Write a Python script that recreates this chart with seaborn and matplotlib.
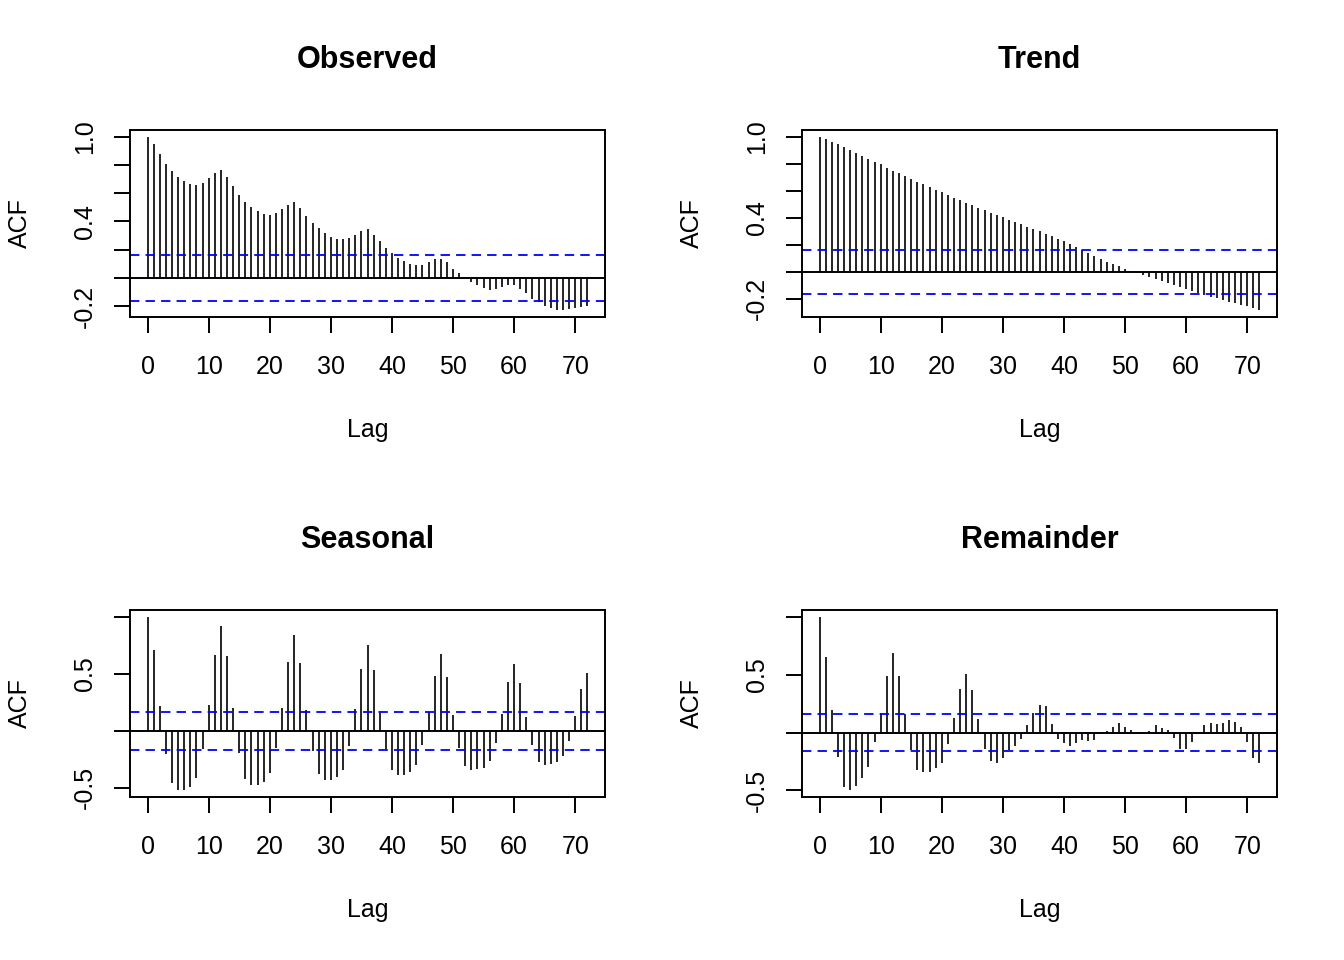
import numpy as np
import pandas as pd
import matplotlib
matplotlib.use("Agg")
import matplotlib.pyplot as plt
import seaborn as sns

# ACF values, lags 0..72 (monthly series, n = 144)
observed_acf = [1.0, 0.95, 0.88, 0.81, 0.757, 0.716, 0.686, 0.667, 0.657, 0.674,
                0.707, 0.747, 0.764, 0.716, 0.65, 0.589, 0.541, 0.504, 0.473, 0.454,
                0.447, 0.461, 0.487, 0.52, 0.537, 0.496, 0.442, 0.39, 0.352, 0.319,
                0.293, 0.279, 0.272, 0.281, 0.303, 0.331, 0.343, 0.307, 0.258, 0.215,
                0.177, 0.144, 0.116, 0.097, 0.09, 0.092, 0.109, 0.13, 0.137, 0.109,
                0.066, 0.033, 0.005, -0.031, -0.054, -0.073, -0.083, -0.076, -0.066, -0.05,
                -0.052, -0.078, -0.111, -0.147, -0.17, -0.2, -0.215, -0.229, -0.229, -0.22,
                -0.215, -0.206, -0.2]

trend_acf = [1.0, 0.983, 0.966, 0.946, 0.924, 0.904, 0.882, 0.86, 0.837, 0.815,
             0.796, 0.771, 0.751, 0.732, 0.709, 0.687, 0.668, 0.65, 0.63, 0.608,
             0.589, 0.57, 0.549, 0.53, 0.512, 0.493, 0.475, 0.456, 0.44, 0.421,
             0.404, 0.387, 0.369, 0.352, 0.335, 0.318, 0.3, 0.283, 0.265, 0.246,
             0.227, 0.207, 0.185, 0.163, 0.14, 0.118, 0.096, 0.076, 0.057, 0.04,
             0.024, 0.01, -0.005, -0.02, -0.036, -0.052, -0.068, -0.084, -0.099, -0.114,
             -0.128, -0.142, -0.156, -0.17, -0.183, -0.196, -0.209, -0.221, -0.233, -0.245,
             -0.256, -0.266, -0.283]

seasonal_acf = [1.0, 0.714, 0.219, -0.204, -0.458, -0.516, -0.519, -0.49, -0.414, -0.155,
                0.224, 0.665, 0.921, 0.656, 0.201, -0.19, -0.423, -0.472, -0.472, -0.446,
                -0.373, -0.146, 0.204, 0.606, 0.84, 0.598, 0.181, -0.175, -0.382, -0.431,
                -0.429, -0.402, -0.341, -0.131, 0.19, 0.545, 0.755, 0.536, 0.16, -0.16,
                -0.347, -0.388, -0.385, -0.362, -0.3, -0.122, 0.166, 0.484, 0.671, 0.475,
                0.143, -0.146, -0.306, -0.341, -0.335, -0.321, -0.265, -0.102, 0.146, 0.426,
                0.589, 0.417, 0.125, -0.125, -0.271, -0.297, -0.294, -0.274, -0.224, -0.087,
                0.131, 0.37, 0.504]

remainder_acf = [1.0, 0.655, 0.195, -0.207, -0.468, -0.497, -0.46, -0.394, -0.296, -0.078,
                 0.172, 0.489, 0.684, 0.489, 0.164, -0.152, -0.322, -0.345, -0.339, -0.31,
                 -0.259, -0.095, 0.124, 0.379, 0.503, 0.371, 0.115, -0.144, -0.244, -0.259,
                 -0.216, -0.152, -0.115, -0.052, 0.066, 0.167, 0.241, 0.227, 0.078, -0.052,
                 -0.092, -0.115, -0.092, -0.063, -0.072, -0.063, -0.014, 0.011, 0.049, 0.086,
                 0.049, 0.02, 0.009, -0.014, 0.017, 0.063, 0.04, 0.02, -0.043, -0.138,
                 -0.138, -0.08, -0.014, 0.063, 0.086, 0.078, 0.086, 0.112, 0.095, 0.049,
                 -0.08, -0.216, -0.259]

titles = ["Observed", "Trend", "Seasonal", "Remainder"]
n_obs = 144
ci = 1.96 / np.sqrt(n_obs)

x_ticks = [0, 10, 20, 30, 40, 50, 60, 70]
yticks_a = [-0.2, 0.0, 0.2, 0.4, 0.6, 0.8, 1.0]
ylabels_a = ["-0.2", "", "", "0.4", "", "", "1.0"]
yticks_b = [-0.5, 0.0, 0.5, 1.0]
ylabels_b = ["-0.5", "", "0.5", ""]

sns.set_style("ticks")
plt.rcParams["font.family"] = ["Liberation Sans", "DejaVu Sans"]
plt.rcParams.update({
    "text.color": "black",
    "axes.labelcolor": "black",
    "axes.edgecolor": "black",
    "axes.linewidth": 1.4,
    "xtick.color": "black",
    "ytick.color": "black",
    "xtick.major.size": 11.5,
    "ytick.major.size": 11.5,
    "xtick.major.width": 1.4,
    "ytick.major.width": 1.4,
    "xtick.labelsize": 18,
    "ytick.labelsize": 18,
})

fig = plt.figure(figsize=(13.44, 9.6), dpi=100)
positions = [
    [0.09673, 0.66979, 0.35342, 0.19479],
    [0.59673, 0.66979, 0.35342, 0.19479],
    [0.09673, 0.16979, 0.35342, 0.19479],
    [0.59673, 0.16979, 0.35342, 0.19479],
]
series = [observed_acf, trend_acf, seasonal_acf, remainder_acf]
ytick_sets = [(yticks_a, ylabels_a), (yticks_a, ylabels_a),
              (yticks_b, ylabels_b), (yticks_b, ylabels_b)]

for title, vals, pos, (yt, yl) in zip(titles, series, positions, ytick_sets):
    ax = fig.add_axes(pos)
    df = pd.DataFrame({"lag": np.arange(len(vals)), "acf": vals})

    ax.vlines(df["lag"], 0, df["acf"], color="black", lw=1.2)
    ax.axhline(0, color="black", lw=1.4)
    for c in (ci, -ci):
        ax.axhline(c, color="#0000ff", lw=1.3, dashes=(5.2, 3.4))

    # R style 4% padding
    lo = min(df["acf"].min(), -ci)
    hi = max(df["acf"].max(), ci)
    pad = 0.04 * (hi - lo)
    ax.set_ylim(lo - pad, hi + pad)
    xmax = df["lag"].max()
    ax.set_xlim(-0.04 * xmax, xmax * 1.04)

    ax.set_xticks(x_ticks)
    ax.set_xticklabels([str(t) for t in x_ticks])
    ax.set_yticks(yt)
    ax.set_yticklabels(yl, rotation=90, va="center")
    ax.tick_params(axis="x", pad=16)
    ax.tick_params(axis="y", pad=12)
    for s in ax.spines.values():
        s.set_visible(True)

    ax.set_xlabel("Lag", fontsize=18, va="center")
    ax.xaxis.set_label_coords(0.5, -0.604)
    ax.set_ylabel("ACF", fontsize=18, va="center")
    ax.yaxis.set_label_coords(-0.2316, 0.5)
    ax.set_title(title, fontsize=22, fontweight="bold", y=1.375, va="center", pad=0)

fig.savefig("out.png", dpi=100)
